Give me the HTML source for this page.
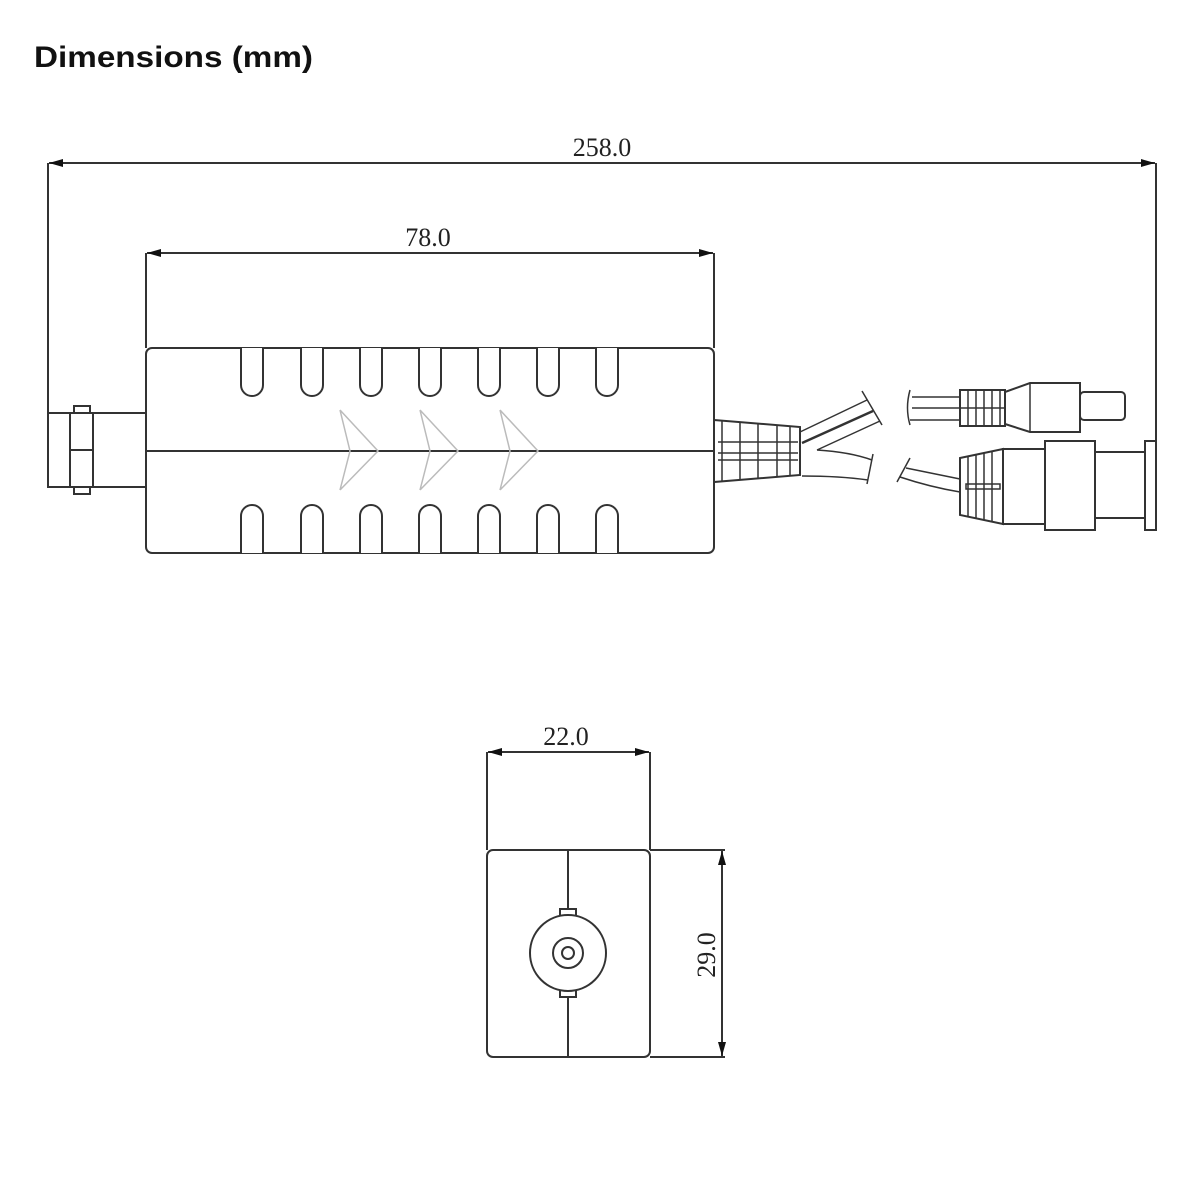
<!DOCTYPE html>
<html><head><style>body{margin:0;background:#fff}svg{display:block}</style></head><body>
<svg width="1200" height="1200" xmlns="http://www.w3.org/2000/svg">
<defs><marker id="a" viewBox="0 0 14 8" refX="14" refY="4" markerWidth="14" markerHeight="8" orient="auto-start-reverse" markerUnits="userSpaceOnUse"><path d="M14,4 L0,0 L0,8z" fill="#111"/></marker></defs>
<text x="34" y="67" font-family="Liberation Sans, sans-serif" font-weight="bold" font-size="30" fill="#111" textLength="279" lengthAdjust="spacingAndGlyphs">Dimensions (mm)</text>
<g stroke="#333" stroke-width="2" fill="none">
<line x1="49" y1="163" x2="1155" y2="163" marker-start="url(#a)" marker-end="url(#a)"/>
<line x1="48" y1="163" x2="48" y2="413"/>
<line x1="1156" y1="163" x2="1156" y2="441"/>
<line x1="147" y1="253" x2="713" y2="253" marker-start="url(#a)" marker-end="url(#a)"/>
<line x1="146" y1="253" x2="146" y2="348"/>
<line x1="714" y1="253" x2="714" y2="348"/>
<rect x="146" y="348" width="568" height="205" rx="6"/>
<line x1="146" y1="451" x2="714" y2="451"/>
</g>
<g stroke="#333" stroke-width="2" fill="#fff">
<path d="M241,348 V385 a11,11 0 0 0 22,0 V348"/><path d="M301,348 V385 a11,11 0 0 0 22,0 V348"/><path d="M360,348 V385 a11,11 0 0 0 22,0 V348"/><path d="M419,348 V385 a11,11 0 0 0 22,0 V348"/><path d="M478,348 V385 a11,11 0 0 0 22,0 V348"/><path d="M537,348 V385 a11,11 0 0 0 22,0 V348"/><path d="M596,348 V385 a11,11 0 0 0 22,0 V348"/>
<path d="M241,553 V516 a11,11 0 0 1 22,0 V553"/><path d="M301,553 V516 a11,11 0 0 1 22,0 V553"/><path d="M360,553 V516 a11,11 0 0 1 22,0 V553"/><path d="M419,553 V516 a11,11 0 0 1 22,0 V553"/><path d="M478,553 V516 a11,11 0 0 1 22,0 V553"/><path d="M537,553 V516 a11,11 0 0 1 22,0 V553"/><path d="M596,553 V516 a11,11 0 0 1 22,0 V553"/>
</g>
<g stroke="#bbb" stroke-width="1.5" fill="none">
<path d="M340,410 L350,451 L340,490 M340,410 L378,451 L340,490"/>
<path d="M420,410 L430,451 L420,490 M420,410 L458,451 L420,490"/>
<path d="M500,410 L510,451 L500,490 M500,410 L538,451 L500,490"/>
</g>
<g stroke="#333" stroke-width="2" fill="#fff">
<rect x="48" y="413" width="98" height="74"/>
<rect x="74" y="406" width="16" height="7"/><rect x="74" y="487" width="16" height="7"/>
<rect x="70" y="413" width="23" height="74"/>
<line x1="70" y1="450" x2="93" y2="450"/>
<path d="M714,420 L800,427 L800,475 L714,482 Z"/>
</g>
<g stroke="#333" stroke-width="1.5" fill="none">
<line x1="722" y1="421" x2="722" y2="481"/><line x1="740" y1="422" x2="740" y2="480"/><line x1="758" y1="424" x2="758" y2="478"/><line x1="777" y1="425" x2="777" y2="477"/><line x1="790" y1="426" x2="790" y2="476"/>
<line x1="718" y1="442" x2="798" y2="442"/><line x1="718" y1="453" x2="798" y2="453"/><line x1="718" y1="460" x2="798" y2="460"/>
<path d="M800,432 L867,400"/><path d="M802,443 L873,411" stroke-width="2.5"/><path d="M817,450 L880,421"/>
<path d="M817,450 Q850,452 872,460"/><path d="M802,476 Q840,476 868,480"/>
<path d="M862,391 L882,425"/><path d="M873,454 L867,484"/>
<path d="M910,390 Q905,408 910,425"/><path d="M910,458 L897,482"/>
<line x1="912" y1="397" x2="960" y2="397"/><line x1="912" y1="408" x2="960" y2="408"/><line x1="910" y1="420" x2="960" y2="420"/>
<path d="M906,468 Q935,474 960,479"/><path d="M900,477 Q930,487 960,492"/>
</g>
<g stroke="#333" stroke-width="2" fill="#fff">
<rect x="1080" y="392" width="45" height="28" rx="4"/>
<path d="M1005,392 L1030,383 L1080,383 L1080,432 L1030,432 L1005,424 Z"/>
<rect x="960" y="390" width="45" height="36"/>
<rect x="1145" y="441" width="11" height="89"/>
<rect x="1095" y="452" width="50" height="66"/>
<rect x="1045" y="441" width="50" height="89"/>
<rect x="1003" y="449" width="42" height="75"/>
<path d="M960,458 L1003,449 L1003,524 L960,515 Z"/>
</g>
<g stroke="#333" stroke-width="1.5" fill="none">
<line x1="968" y1="390" x2="968" y2="426"/><line x1="976" y1="390" x2="976" y2="426"/><line x1="984" y1="390" x2="984" y2="426"/><line x1="992" y1="390" x2="992" y2="426"/><line x1="1000" y1="390" x2="1000" y2="426"/><line x1="960" y1="408" x2="1005" y2="408"/>
<line x1="1030" y1="383" x2="1030" y2="432"/>
<line x1="968" y1="456" x2="968" y2="517"/><line x1="976" y1="455" x2="976" y2="518"/><line x1="984" y1="453" x2="984" y2="520"/><line x1="992" y1="451" x2="992" y2="522"/>
<rect x="966" y="484" width="34" height="5"/>
</g>
<g stroke="#333" stroke-width="2" fill="none">
<line x1="488" y1="752" x2="649" y2="752" marker-start="url(#a)" marker-end="url(#a)"/>
<line x1="487" y1="752" x2="487" y2="850"/><line x1="650" y1="752" x2="650" y2="850"/>
<rect x="487" y="850" width="163" height="207" rx="6"/>
<line x1="650" y1="850" x2="725" y2="850"/><line x1="650" y1="1057" x2="725" y2="1057"/>
<line x1="722" y1="851" x2="722" y2="1056" marker-start="url(#a)" marker-end="url(#a)"/>
<line x1="568" y1="850" x2="568" y2="909"/><line x1="568" y1="997" x2="568" y2="1057"/>
<rect x="560" y="909" width="16" height="7" fill="#fff"/><rect x="560" y="990" width="16" height="7" fill="#fff"/>
<circle cx="568" cy="953" r="38" fill="#fff"/><circle cx="568" cy="953" r="15"/><circle cx="568" cy="953" r="6"/>
</g>
<g font-family="Liberation Serif, serif" font-size="26" fill="#222" text-anchor="middle">
<text x="602" y="156">258.0</text>
<text x="428" y="246">78.0</text>
<text x="566" y="745">22.0</text>
<text transform="translate(715,955) rotate(-90)">29.0</text>
</g>
</svg>
</body></html>
